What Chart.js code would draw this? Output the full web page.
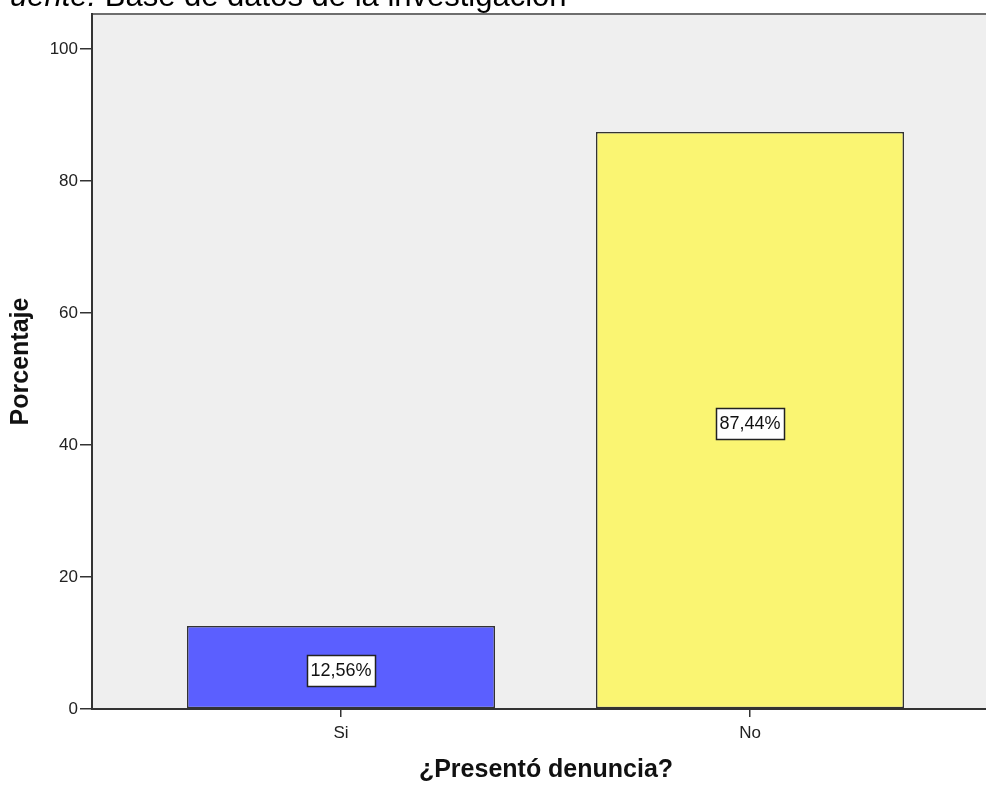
<!DOCTYPE html>
<html>
<head>
<meta charset="utf-8">
<script src="https://cdn.jsdelivr.net/npm/chart.js@4.4.1/dist/chart.umd.min.js"></script>
<style>
  html, body { margin: 0; padding: 0; background: #fff; overflow: hidden; }
  #wrap { position: relative; width: 986px; height: 785px; overflow: hidden; }
  #src {
    position: absolute; left: -9px; top: -22px;
    font-family: "Liberation Sans", Arial, sans-serif; font-size: 31px; color: #000;
    white-space: nowrap; z-index: 2;
  }
  #src i { font-style: italic; }
  canvas { position: absolute; left: 0; top: 0; }
</style>
</head>
<body>
<div id="wrap">
  <div id="src"><i>Fuente:</i> Base de datos de la investigación</div>
  <canvas id="chart" width="1000" height="785"></canvas>
</div>
<script>
// ── Data ─────────────────────────────────────────────
const categories = ['Si', 'No'];
const percentValues = [12.56, 87.44];
const percentLabels = ['12,56%', '87,44%'];
const barColors = ['#5b5fff', '#faf572'];
const yTicks = [0, 20, 40, 60, 80, 100];

const FONT = '"Liberation Sans", Arial, sans-serif';

// plot background + top frame line
const plotFrame = {
    id: 'plotFrame',
    beforeDraw(chart) {
        const { ctx, chartArea: a } = chart;
        ctx.save();
        ctx.fillStyle = '#efefef';
        ctx.fillRect(a.left, a.top, a.right - a.left, a.bottom - a.top);
        ctx.strokeStyle = '#6e6e6e';
        ctx.lineWidth = 2;
        ctx.beginPath();
        ctx.moveTo(a.left, a.top);
        ctx.lineTo(a.right, a.top);
        ctx.stroke();
        ctx.restore();
    }
};

// boxed value labels in the middle of each bar
const boxLabels = {
    id: 'boxLabels',
    afterDatasetsDraw(chart) {
        const { ctx } = chart;
        const meta = chart.getDatasetMeta(0);
        ctx.save();
        ctx.font = '18px ' + FONT;
        ctx.textAlign = 'center';
        ctx.textBaseline = 'middle';
        meta.data.forEach((bar, i) => {
            const txt = percentLabels[i];
            const cy = (bar.y + bar.base) / 2 + 3;
            const w = Math.round(ctx.measureText(txt).width + 7);
            const h = 31;
            const x0 = Math.round(bar.x - w / 2) + 0.5;
            const y0 = Math.round(cy - h / 2) + 0.5;
            ctx.fillStyle = '#fff';
            ctx.fillRect(x0, y0, w, h);
            ctx.strokeStyle = '#222';
            ctx.lineWidth = 1.5;
            ctx.strokeRect(x0, y0, w, h);
            ctx.fillStyle = '#111';
            ctx.fillText(txt, bar.x, cy + 1);
        });
        ctx.restore();
    }
};

new Chart(document.getElementById('chart'), {
    type: 'bar',
    data: {
        datasets: [{
            data: percentValues.map((v, i) => ({ x: i, y: v })),
            backgroundColor: barColors,
            borderColor: '#333',
            borderWidth: 1.5,
            borderSkipped: false,
            barPercentage: 1,
            categoryPercentage: 308 / 409
        }]
    },
    options: {
        responsive: false,
        devicePixelRatio: 1,
        animation: false,
        layout: { padding: { top: 14, right: 0, left: 0, bottom: 0 } },
        plugins: {
            legend: { display: false },
            tooltip: { enabled: false }
        },
        scales: {
            x: {
                type: 'linear',
                offset: false,
                min: -249 / 409,
                max: 659 / 409,
                afterBuildTicks: s => { s.ticks = categories.map((c, i) => ({ value: i })); },
                afterFit: s => { s.height = 76; },
                grid: { display: true, offset: false, drawOnChartArea: false, drawTicks: true, tickLength: 8, color: '#333', lineWidth: 1.5 },
                border: { display: true, color: '#333', width: 2 },
                ticks: {
                    callback: v => categories[v] ?? '',
                    color: '#222',
                    font: { family: FONT, size: 17 },
                    padding: 6,
                    maxRotation: 0
                },
                title: {
                    display: true,
                    text: '¿Presentó denuncia?',
                    color: '#111',
                    font: { family: FONT, size: 25, weight: 'bold' },
                    padding: { top: 8, bottom: 0 }
                }
            },
            y: {
                min: 0,
                max: 105.3,
                afterBuildTicks: s => { s.ticks = yTicks.map(v => ({ value: v })); },
                afterFit: s => { s.width = 92; },
                grid: { display: true, drawOnChartArea: false, drawTicks: true, tickLength: 12, color: '#333', lineWidth: 1.5 },
                border: { display: true, color: '#333', width: 2 },
                ticks: {
                    color: '#222',
                    font: { family: FONT, size: 17 },
                    padding: 2
                },
                title: {
                    display: true,
                    text: 'Porcentaje',
                    color: '#111',
                    font: { family: FONT, size: 25, weight: 'bold' },
                    padding: { top: 6, bottom: 0 }
                }
            }
        }
    },
    plugins: [plotFrame, boxLabels]
});
</script>
</body>
</html>
